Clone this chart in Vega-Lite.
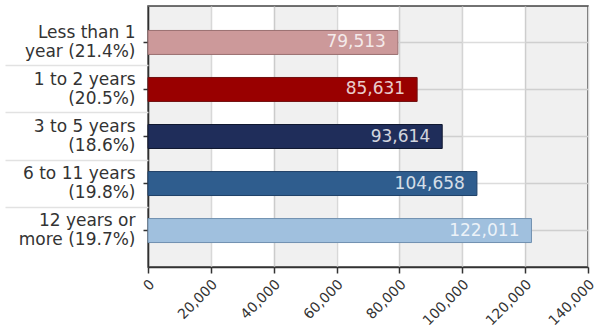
{
  "$schema": "https://vega.github.io/schema/vega-lite/v6.json",
  "width": 440,
  "height": 261,
  "autosize": {"type": "none"},
  "padding": {"left": 148, "top": 6, "right": 8, "bottom": 64},
  "background": "white",
  "config": {
    "font": "DejaVu Sans",
    "view": {"stroke": "#444", "strokeWidth": 1.5}
  },
  "datasets": {
    "bars": [
      {"group": "Less than 1|year (21.4%)", "count": 79513},
      {"group": "1 to 2 years|(20.5%)", "count": 85631},
      {"group": "3 to 5 years|(18.6%)", "count": 93614},
      {"group": "6 to 11 years|(19.8%)", "count": 104658},
      {"group": "12 years or|more (19.7%)", "count": 122011}
    ],
    "bands": [
      {"from": 0, "to": 20000},
      {"from": 40000, "to": 60000},
      {"from": 80000, "to": 100000},
      {"from": 120000, "to": 140000}
    ]
  },
  "layer": [
    {
      "data": {"name": "bands"},
      "mark": {"type": "rect", "color": "#000", "opacity": 0.06},
      "encoding": {
        "x": {
          "field": "from", "type": "quantitative",
          "scale": {"domain": [0, 140000], "nice": false},
          "axis": {
            "title": null,
            "values": [0, 20000, 40000, 60000, 80000, 100000, 120000, 140000],
            "format": ",d",
            "labelAngle": -45,
            "labelFontSize": 14,
            "labelColor": "#333",
            "labelPadding": 4,
            "labelOffset": -1,
            "tickSize": 6,
            "tickColor": "#333",
            "tickWidth": 1.5,
            "domainColor": "#333",
            "domainWidth": 1.5,
            "grid": true,
            "gridColor": "#d8d8d8",
            "gridWidth": 1.5
          }
        },
        "x2": {"field": "to"}
      }
    },
    {
      "data": {"name": "bars"},
      "mark": {"type": "bar", "strokeWidth": 1},
      "encoding": {
        "y": {
          "field": "group", "type": "nominal", "sort": null,
          "scale": {"paddingInner": 0.49, "paddingOuter": 0.52},
          "axis": {
            "title": null,
            "labelExpr": "split(datum.label, '|')",
            "labelFontSize": 17,
            "labelColor": "#333",
            "labelLineHeight": 19,
            "labelPadding": 8,
            "labelOffset": -9.5,
            "tickSize": 5,
            "tickColor": "#333",
            "tickWidth": 1.5,
            "domainColor": "#333",
            "domainWidth": 1.5,
            "grid": true,
            "gridColor": "#dcdcdc",
            "gridWidth": 1.5
          }
        },
        "x": {
          "field": "count", "type": "quantitative",
          "axis": {
            "title": null,
            "values": [0, 20000, 40000, 60000, 80000, 100000, 120000, 140000],
            "format": ",d",
            "labelAngle": -45,
            "labelFontSize": 14,
            "labelColor": "#333",
            "labelPadding": 4,
            "labelOffset": -1,
            "tickSize": 6,
            "tickColor": "#333",
            "tickWidth": 1.5,
            "domainColor": "#333",
            "domainWidth": 1.5,
            "grid": true,
            "gridColor": "#d8d8d8",
            "gridWidth": 1.5
          }
        },
        "color": {
          "field": "group", "type": "nominal", "sort": null, "legend": null,
          "scale": {"range": ["#cc999a", "#990000", "#1f2d5a", "#2f5d8e", "#a0c0de"]}
        },
        "stroke": {
          "field": "group", "type": "nominal", "sort": null, "legend": null,
          "scale": {"range": ["#9a6f70", "#701010", "#101830", "#1f4068", "#7090b0"]}
        }
      }
    },
    {
      "data": {"name": "bars"},
      "mark": {"type": "text", "align": "right", "baseline": "middle", "dx": -12, "fontSize": 17, "color": "white", "opacity": 0.8},
      "encoding": {
        "y": {
          "field": "group", "type": "nominal", "sort": null,
          "axis": {
            "title": null,
            "orient": "left",
            "labels": false,
            "domain": false,
            "grid": false,
            "bandPosition": -0.48,
            "tickSize": 143,
            "tickColor": "#e2e2e2",
            "tickWidth": 1.5,
            "tickOpacity": {"condition": {"test": "datum.index <= 0", "value": 0}, "value": 1}
          }
        },
        "x": {
          "field": "count", "type": "quantitative",
          "axis": {
            "title": null,
            "values": [0, 20000, 40000, 60000, 80000, 100000, 120000, 140000],
            "format": ",d",
            "labelAngle": -45,
            "labelFontSize": 14,
            "labelColor": "#333",
            "labelPadding": 4,
            "labelOffset": -1,
            "tickSize": 6,
            "tickColor": "#333",
            "tickWidth": 1.5,
            "domainColor": "#333",
            "domainWidth": 1.5,
            "grid": true,
            "gridColor": "#d8d8d8",
            "gridWidth": 1.5
          }
        },
        "text": {"field": "count", "type": "quantitative", "format": ",d"}
      }
    }
  ],
  "resolve": {"axis": {"y": "independent"}}
}
